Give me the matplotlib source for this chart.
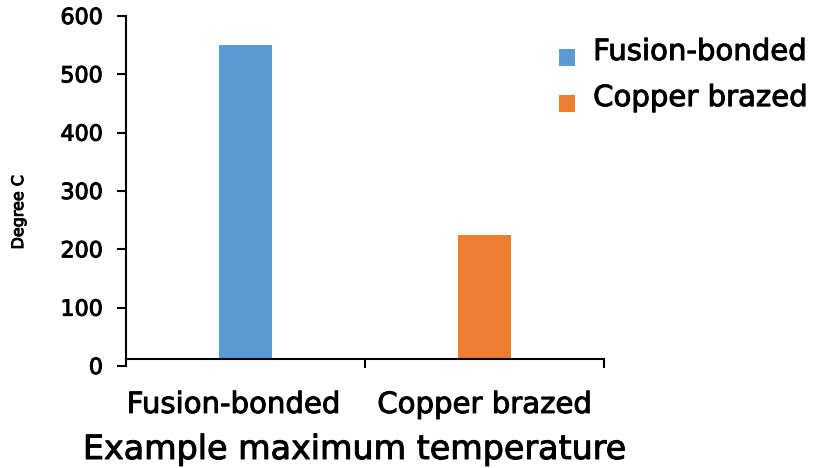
import matplotlib
matplotlib.use("Agg")
import matplotlib.pyplot as plt
import matplotlib.patheffects as pe
from matplotlib.patches import Patch, Rectangle
from matplotlib.legend_handler import HandlerPatch
from matplotlib.transforms import ScaledTranslation

plt.rcParams['font.family'] = ['DejaVu Sans']

categories = ["Fusion-bonded", "Copper brazed"]
series_names = ["Fusion-bonded", "Copper brazed"]
series_values = [550, 225]
series_colors = ["#5B9BD5", "#ED7D31"]
y_ticks = [0, 100, 200, 300, 400, 500, 600]
y_label = "Degree C"
x_title = "Example maximum temperature"

W, H = 818, 468
fig = plt.figure(figsize=(W / 100, H / 100), dpi=100)
ax = fig.add_axes([126 / W, (H - 366) / H, 478 / W, 350 / H])

ink = "#000000"
heavy = [pe.withStroke(linewidth=0.7, foreground=ink)]
axis_floor = 12  # horizontal axis sits slightly above zero

positions = list(range(len(categories)))
bars = ax.bar(positions, series_values, width=0.22, color=series_colors, zorder=2)
clip = Rectangle((0, axis_floor / 600), 1, 1, transform=ax.transAxes)
for b in bars:
    b.set_clip_path(clip)

ax.set_xlim(-0.5, len(categories) - 0.5)
ax.set_ylim(0, 600)

for s in ("top", "right"):
    ax.spines[s].set_visible(False)
for s in ("left", "bottom"):
    ax.spines[s].set_linewidth(1.5)
    ax.spines[s].set_color(ink)
    ax.spines[s].set_zorder(3)
ax.spines["bottom"].set_position(("data", axis_floor))
ax.spines["left"].set_bounds(0, 600)

ax.set_yticks(y_ticks)
ax.tick_params(axis="y", direction="out", length=6.5, width=1.5, color=ink,
               labelsize=16, labelcolor=ink, pad=10)

ax.set_xticks([p + 0.5 for p in positions])
ax.set_xticklabels([])
ax.tick_params(axis="x", which="major", direction="out", length=6.5, width=1.5, color=ink)
ax.set_xticks(positions, minor=True)
ax.set_xticklabels(categories, minor=True)
ax.tick_params(axis="x", which="minor", length=0, labelsize=21, labelcolor=ink, pad=23)
first = ax.get_xticklabels(minor=True)[0]
first.set_transform(first.get_transform() + ScaledTranslation(-0.12, 0, fig.dpi_scale_trans))

ax.set_ylabel(y_label, fontsize=11.5, color=ink)
ax.yaxis.set_label_coords(-0.209, 0.44)

title = fig.text(355 / W, (H - 459) / H, x_title, fontsize=24, color=ink,
                 ha="center", va="baseline")


def lowered_square(legend, orig_handle, xdescent, ydescent, width, height, fontsize):
    # square key sitting a little below the text centre
    return Rectangle((-xdescent, -ydescent - 5.5), width, height)


handles = [Patch(facecolor=c, edgecolor="none") for c in series_colors]
leg = fig.legend(handles, series_names, loc="upper left",
                 bbox_to_anchor=(559 / W, 1 - 38 / H), bbox_transform=fig.transFigure,
                 frameon=False, fontsize=21, handlelength=0.55, handleheight=0.55,
                 handletextpad=0.62, labelspacing=0.62, borderpad=0, borderaxespad=0,
                 labelcolor=ink,
                 handler_map={Patch: HandlerPatch(patch_func=lowered_square)})

texts = (ax.get_yticklabels() + ax.get_xticklabels(minor=True)
         + [ax.yaxis.label, title] + leg.get_texts())
for t in texts:
    t.set_path_effects(heavy)

fig.savefig("out.png", dpi=100)
